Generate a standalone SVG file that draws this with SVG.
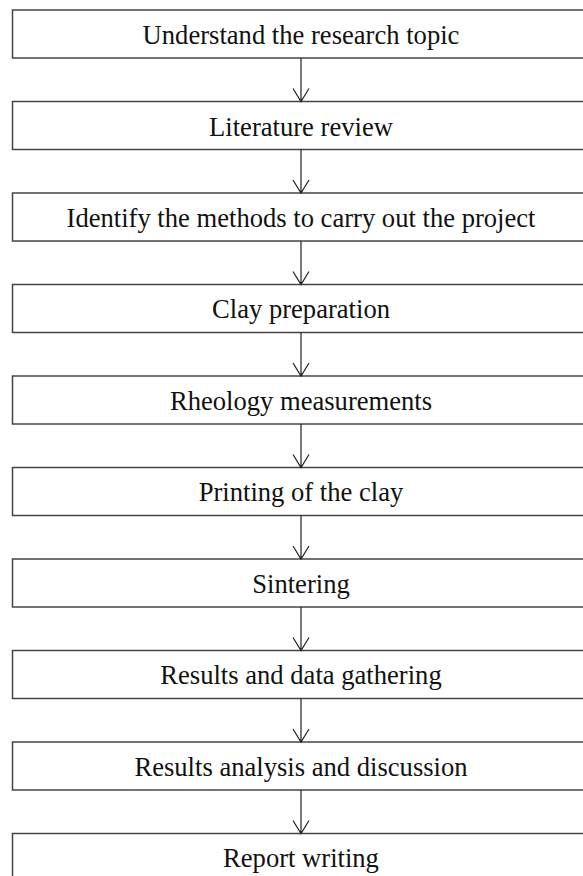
<svg xmlns="http://www.w3.org/2000/svg" width="583" height="876" viewBox="0 0 583 876">
<style>
.box{fill:#fff;stroke:#444;stroke-width:1.5}
.lbl{font-family:"Liberation Serif","Times New Roman",serif;font-size:26.6px;fill:#111;text-anchor:middle}
.conn{stroke:#222;stroke-width:1.2;fill:none}
</style>
<rect width="583" height="876" fill="#fff"/>
<g id="n1"><rect class="box" x="12.5" y="10" width="577" height="48"/><text class="lbl" x="301" y="44">Understand the research topic</text></g>
<g id="n2"><rect class="box" x="12.5" y="101.5" width="577" height="48"/><text class="lbl" x="301" y="135.5">Literature review</text></g>
<g id="n3"><rect class="box" x="12.5" y="193" width="577" height="48"/><text class="lbl" x="301" y="226.5">Identify the methods to carry out the project</text></g>
<g id="n4"><rect class="box" x="12.5" y="284.5" width="577" height="48"/><text class="lbl" x="301" y="318">Clay preparation</text></g>
<g id="n5"><rect class="box" x="12.5" y="376" width="577" height="48"/><text class="lbl" x="301" y="409.5">Rheology measurements</text></g>
<g id="n6"><rect class="box" x="12.5" y="467.5" width="577" height="48"/><text class="lbl" x="301" y="501">Printing of the clay</text></g>
<g id="n7"><rect class="box" x="12.5" y="559" width="577" height="48"/><text class="lbl" x="301" y="592.5">Sintering</text></g>
<g id="n8"><rect class="box" x="12.5" y="650.5" width="577" height="48"/><text class="lbl" x="301" y="684">Results and data gathering</text></g>
<g id="n9"><rect class="box" x="12.5" y="742" width="577" height="48"/><text class="lbl" x="301" y="775.5">Results analysis and discussion</text></g>
<g id="n10"><rect class="box" x="12.5" y="833.5" width="577" height="48"/><text class="lbl" x="301" y="867">Report writing</text></g>
<g id="connectors">
<path class="conn" d="M301 58V101.5M293 88.5L301 101.5L309 88.5"/>
<path class="conn" d="M301 149.5V193M293 180L301 193L309 180"/>
<path class="conn" d="M301 241V284.5M293 271.5L301 284.5L309 271.5"/>
<path class="conn" d="M301 332.5V376M293 363L301 376L309 363"/>
<path class="conn" d="M301 424V467.5M293 454.5L301 467.5L309 454.5"/>
<path class="conn" d="M301 515.5V559M293 546L301 559L309 546"/>
<path class="conn" d="M301 607V650.5M293 637.5L301 650.5L309 637.5"/>
<path class="conn" d="M301 698.5V742M293 729L301 742L309 729"/>
<path class="conn" d="M301 790V833.5M293 820.5L301 833.5L309 820.5"/>
</g>
</svg>
